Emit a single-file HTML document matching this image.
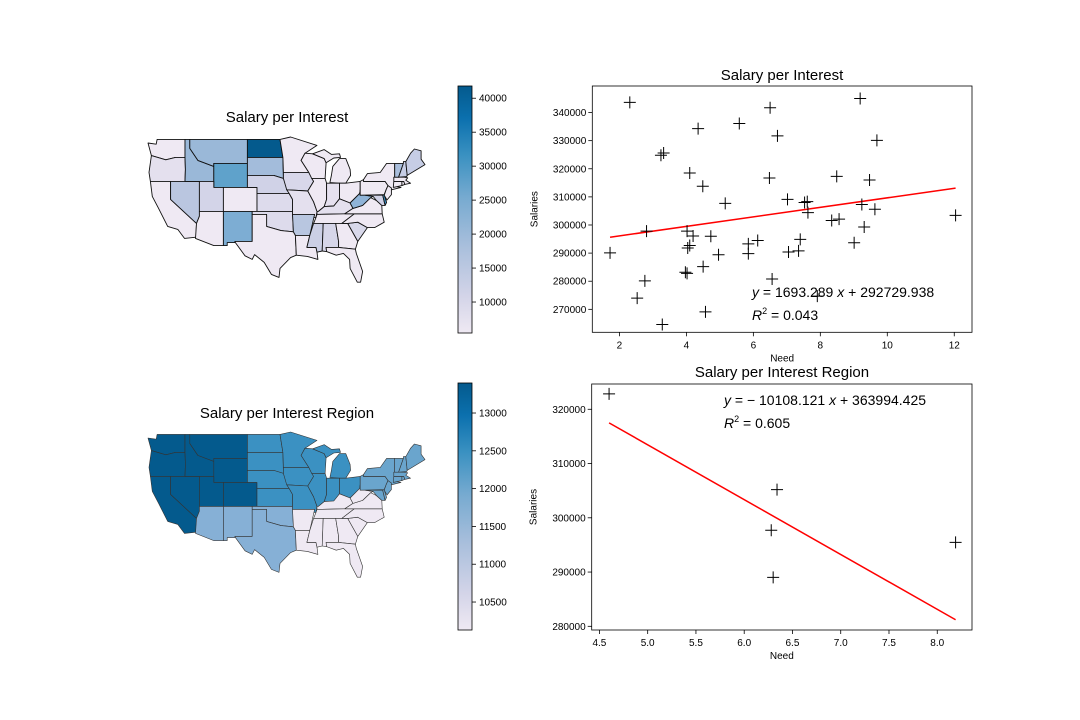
<!DOCTYPE html>
<html><head><meta charset="utf-8"><style>
body{margin:0;background:#fff;}
svg{display:block;font-family:"Liberation Sans","DejaVu Sans",sans-serif;}
</style></head><body>
<svg id="fig" width="1080" height="720" viewBox="0 0 1080 720" xmlns="http://www.w3.org/2000/svg">
<defs>
<linearGradient id="pubu" x1="0" y1="1" x2="0" y2="0">
<stop offset="0" stop-color="#efe9f3"/><stop offset="0.15" stop-color="#d3d4e8"/><stop offset="0.35" stop-color="#a9bfdc"/><stop offset="0.55" stop-color="#76aad0"/><stop offset="0.72" stop-color="#3a91c1"/><stop offset="0.87" stop-color="#0b70ae"/><stop offset="1" stop-color="#045a8d"/>
</linearGradient>
</defs>
<rect width="1080" height="720" fill="#fff"/>
<text x="287" y="122" font-size="15" text-anchor="middle">Salary per Interest</text>
<text x="287" y="418" font-size="15" text-anchor="middle">Salary per Interest Region</text>
<text x="782" y="80" font-size="15" text-anchor="middle">Salary per Interest</text>
<text x="782" y="377" font-size="15" text-anchor="middle">Salary per Interest Region</text>
<g id="map1"></g>
<g id="map2"></g>
<g id="cb1"></g>
<g id="cb2"></g>
<g id="sc1"></g>
<g id="sc2"></g>
</svg>
<script>
const needTop=[2.31,2.53,2.76,2.81,1.72,3.24,3.32,3.28,4.10,4.35,4.49,4.02,4.20,4.10,4.04,3.97,4.02,4.50,4.57,4.73,5.16,4.96,5.58,5.85,5.85,6.13,6.50,6.72,6.48,6.56,7.02,7.05,7.35,7.40,7.53,7.61,7.63,7.91,8.34,8.56,8.49,9.01,9.24,9.19,9.31,9.47,9.63,9.69,12.04];
const salTop=[343600,274000,280100,297800,290100,324800,325600,264600,318500,334300,313800,297800,296100,292700,291800,283200,282800,285200,269100,296000,307700,289400,336100,293300,289800,294500,341700,331700,316700,280800,309100,290400,290800,294900,308000,308300,304400,274700,301600,302100,317300,293700,307300,345000,299300,316000,305600,330100,303400];
const fitTop=[1693.289,292729.938];
const ticksTopX=[2,4,6,8,10,12];
const ticksTopY=[270000,280000,290000,300000,310000,320000,330000,340000];
const needBot=[4.60,6.34,6.28,6.30,8.19];
const salBot=[322830,305190,297700,289030,295480];
const fitBot=[-10108.121,363994.425];
const ticksBotX=[4.5,5.0,5.5,6.0,6.5,7.0,7.5,8.0];
const ticksBotY=[280000,290000,300000,310000,320000];
const cbTopTicks=[10000,15000,20000,25000,30000,35000,40000];
const cbBotTicks=[10500,11000,11500,12000,12500,13000];
const NS="http://www.w3.org/2000/svg";
function mk(p,t,a,txt){const e=document.createElementNS(NS,t);for(const k in a)e.setAttribute(k,a[k]);if(txt!==undefined)e.textContent=txt;p.appendChild(e);return e;}
function scatter(gid,xs,ys,cf,tx,ty,box,dom,eq,eqpos,txFmt){
 const g=document.getElementById(gid);
 const [L,T,R,B]=box,[x0,x1,y0,y1]=dom;
 const X=v=>L+(v-x0)/(x1-x0)*(R-L), Y=v=>B-(v-y0)/(y1-y0)*(B-T);
 tx.forEach(v=>{const t=mk(g,'line',{x1:X(v),x2:X(v),y1:B,y2:B+4,stroke:'#000','stroke-width':0.8});
  
  
  const l=mk(g,'text',{x:X(v),y:B+16,'font-size':10,'text-anchor':'middle'},txFmt(v));
  
  });
 ty.forEach(v=>{const t=mk(g,'line',{x1:L-4,x2:L,y1:Y(v),y2:Y(v),stroke:'#000','stroke-width':0.8});
  
  
  const l=mk(g,'text',{x:L-6,y:Y(v)+3.5,'font-size':10,'text-anchor':'end'},String(v));
  
  });
 const xl=mk(g,'text',{x:(L+R)/2,y:B+29,'font-size':10,'text-anchor':'middle'},'Need');
 
 
 const yl=mk(g,'text',{x:0,y:0,'font-size':10,'text-anchor':'middle',transform:`translate(${L-55},${(T+B)/2}) rotate(-90)`},'Salaries');
 
 
 const [b,a]=cf;const mn=Math.min(...xs),mxv=Math.max(...xs);
 const rl=mk(g,'line',{x1:X(mn),y1:Y(a+b*mn),x2:X(mxv),y2:Y(a+b*mxv),stroke:'#f00','stroke-width':1.5});
 
 
 xs.forEach((v,i)=>{const cx=X(v),cy=Y(ys[i]);
  const p=mk(g,'path',{d:`M${cx-6},${cy}H${cx+6}M${cx},${cy-6}V${cy+6}`,stroke:'#000','stroke-width':1,fill:'none'});
  
  });
 const fr=mk(g,'rect',{x:L,y:T,width:R-L,height:B-T,fill:'none',stroke:'#000','stroke-width':0.8});
 
 
 const e1=mk(g,'text',{x:eqpos[0],y:eqpos[1],'font-size':14},'');
 
 
 e1.innerHTML=eq[0];
 const e2=mk(g,'text',{x:eqpos[0],y:eqpos[1]+23,'font-size':14},'');
 
 
 e2.innerHTML=eq[1];
}
scatter('sc1',needTop,salTop,fitTop,ticksTopX,ticksTopY,[592.3,86,972,332.3],[1.19,12.53,261830,349440],
 ['<tspan font-style="italic">y</tspan> = 1693.289 <tspan font-style="italic">x</tspan> + 292729.938','<tspan font-style="italic">R</tspan><tspan font-size="9" dy="-6">2</tspan><tspan dy="6"> = 0.043</tspan>'],[752,297],v=>String(v));
scatter('sc2',needBot,salBot,fitBot,ticksBotX,ticksBotY,[591.7,384,972,630],[4.42,8.36,279320,324660],
 ['<tspan font-style="italic">y</tspan> = − 10108.121 <tspan font-style="italic">x</tspan> + 363994.425','<tspan font-style="italic">R</tspan><tspan font-size="9" dy="-6">2</tspan><tspan dy="6"> = 0.605</tspan>'],[724,405],v=>v.toFixed(1));

function colorbar(gid,T,B,vmin,vmax,ticks){
 const g=document.getElementById(gid);
 const r=mk(g,'rect',{x:458,y:T,width:14,height:B-T,fill:'url(#pubu)',stroke:'#000','stroke-width':0.8});
 
 
 ticks.forEach(v=>{const y=B-(v-vmin)/(vmax-vmin)*(B-T);
  const t=mk(g,'line',{x1:472,x2:476,y1:y,y2:y,stroke:'#000','stroke-width':0.8});
  
  
  const l=mk(g,'text',{x:479,y:y+3.5,'font-size':10},String(v));
  
  });
}
colorbar('cb1',86,333,5440,41800,cbTopTicks);
colorbar('cb2',383,630,10130,13397,cbBotTicks);

const states={
WA:[[-124.7,48.4],[-123,48.2],[-122.8,49],[-117,49],[-117,46],[-119,46],[-121,45.6],[-124,46.3]],
OR:[[-124,46.3],[-121,45.6],[-119,46],[-117,46],[-116.9,44],[-117,42],[-124.2,42],[-124.5,43.5]],
CA:[[-124.2,42],[-120,42],[-120,39],[-114.6,35],[-114.7,32.7],[-117.1,32.5],[-118.5,34],[-120.6,34.5],[-122.5,37.5],[-123.8,39.5]],
NV:[[-120,42],[-114,42],[-114,36.2],[-114.6,35],[-120,39]],
ID:[[-117,49],[-116,49],[-116,47.5],[-114.3,45.5],[-111,44.5],[-111,42],[-117,42],[-116.9,44],[-117,46]],
MT:[[-116,49],[-104,49],[-104,45],[-111,45],[-111,44.5],[-114.3,45.5],[-116,47.5]],
WY:[[-111,45],[-104,45],[-104,41],[-111,41]],
UT:[[-114,42],[-111,42],[-111,41],[-109,41],[-109,37],[-114,37]],
CO:[[-109,41],[-102,41],[-102,37],[-109,37]],
AZ:[[-114,37],[-109,37],[-109,31.3],[-111,31.3],[-114.8,32.5],[-114.6,35],[-114,36.2]],
NM:[[-109,37],[-103,37],[-103,32],[-106.6,32],[-106.5,31.8],[-108.2,31.8],[-108.2,31.3],[-109,31.3]],
ND:[[-104,49],[-97.2,49],[-96.6,46],[-104,46]],
SD:[[-104,46],[-96.6,46],[-96.5,42.5],[-98.5,43],[-104,43]],
NE:[[-104,43],[-98.5,43],[-96.5,42.5],[-95.3,40],[-102,40],[-102,41],[-104,41]],
KS:[[-102,40],[-95.3,40],[-94.6,39],[-94.6,37],[-102,37]],
OK:[[-103,37],[-94.6,37],[-94.4,33.6],[-97,33.8],[-100,34.5],[-100,36.5],[-103,36.5]],
TX:[[-103,36.5],[-100,36.5],[-100,34.5],[-97,33.8],[-94.4,33.6],[-94,33],[-93.8,29.7],[-95,29.3],[-97.2,27.5],[-97.4,26],[-99,26.5],[-100.5,28.5],[-102.5,29.8],[-103,29],[-104.5,29.6],[-106.5,31.8],[-106.6,32],[-103,32]],
MN:[[-97.2,49],[-95,49.4],[-89.5,48],[-92,46.7],[-92.8,45.5],[-91.2,43.5],[-96.5,43.5],[-96.6,46]],
IA:[[-96.5,43.5],[-91.2,43.5],[-90.2,42],[-91.4,40.4],[-95.8,40.6],[-96.5,42.5]],
MO:[[-95.8,40.6],[-91.4,40.4],[-90.2,38.6],[-89.5,37],[-89.7,36],[-90.4,36],[-90,36.5],[-94.6,36.5],[-94.6,39],[-95.3,40]],
AR:[[-94.6,36.5],[-90,36.5],[-91,33],[-94,33],[-94.4,33.6]],
LA:[[-94,33],[-91,33],[-91.6,31],[-89.7,31],[-89.5,30.2],[-89.3,29],[-91.5,29.5],[-93.8,29.7]],
WI:[[-92,46.7],[-90.4,46.6],[-88,45.8],[-87.6,45.1],[-87.8,42.5],[-90.6,42.5],[-91.2,43.5],[-92.8,45.5]],
IL:[[-90.6,42.5],[-87.8,42.5],[-87.5,41.7],[-87.5,39],[-88,37.8],[-89.2,37],[-89.5,37],[-90.2,38.6],[-91.4,40.4],[-90.2,42]],
MI:[[-86.8,41.8],[-84.8,41.7],[-83.5,41.7],[-82.5,43],[-82.6,44],[-83.5,45.8],[-84.8,45.8],[-86.2,44.5],[-86.5,43]],
MIU:[[-90.4,46.6],[-88,45.8],[-87.6,45.1],[-86,45.9],[-84.6,46],[-84.8,46.6],[-86.5,46.5],[-88,47.3]],
IN:[[-87.5,41.7],[-84.8,41.7],[-84.8,39.1],[-86,37.9],[-88,37.8],[-87.5,39]],
OH:[[-84.8,41.7],[-83.5,41.7],[-80.5,42],[-80.5,40.6],[-80.6,40],[-82.6,38.4],[-84.8,39.1]],
KY:[[-89.5,37],[-89.2,37],[-88,37.8],[-86,37.9],[-84.8,39.1],[-82.6,38.4],[-82,37.5],[-83.7,36.6],[-89.5,36.5]],
TN:[[-90.2,35],[-89.7,36],[-89.5,36.5],[-83.7,36.6],[-81.7,36.6],[-84.3,35]],
MS:[[-91,33],[-90.2,35],[-88.2,35],[-88.4,30.4],[-89.5,30.2],[-89.7,31],[-91.6,31]],
AL:[[-88.2,35],[-85.6,35],[-85,32],[-85,31],[-87.6,31],[-87.5,30.3],[-88.4,30.4]],
GA:[[-85.6,35],[-83.1,35],[-81,32],[-81.5,30.7],[-85,31],[-85,32]],
FL:[[-87.6,31],[-85,31],[-81.5,30.7],[-81.3,30],[-80,27],[-80.4,25.2],[-81.1,25.2],[-82.6,27.5],[-82.7,29],[-84,30],[-85.5,29.7],[-87.5,30.3]],
SC:[[-83.1,35],[-81,35.2],[-79,34.3],[-81,32]],
NC:[[-84.3,35],[-81.7,36.6],[-75.9,36.6],[-75.5,35.2],[-77.5,34.3],[-79,34.3],[-81,35.2],[-83.1,35]],
VA:[[-83.7,36.6],[-75.9,36.6],[-76,38],[-77.1,38.8],[-78.3,39.3],[-80,38],[-82,37.5]],
WV:[[-82.6,38.4],[-80.6,40],[-80.5,40.6],[-80.5,39.7],[-79.5,39.7],[-77.8,39.5],[-78.3,39.3],[-80,38],[-82,37.5]],
MD:[[-79.5,39.7],[-75.8,39.7],[-75.3,38],[-76,38],[-77.1,38.8],[-77.8,39.5]],
DE:[[-75.8,39.7],[-75.5,39.8],[-75,38.5],[-75.3,38]],
PA:[[-80.5,42],[-79.8,42.3],[-79.8,42],[-75.3,42],[-74.7,41.3],[-75.1,40.6],[-75.5,39.8],[-80.5,39.7]],
NY:[[-79.8,42],[-79.8,42.3],[-79,43.3],[-76.3,43.5],[-75,45],[-73.3,45],[-73.3,42.8],[-73.5,41.2],[-72,41],[-74,40.6],[-74.7,41.3],[-75.3,42]],
NJ:[[-74.7,41.3],[-74,40.9],[-74,39.8],[-74.9,38.9],[-75.5,39.7],[-75.1,40.6]],
CT:[[-73.5,42],[-71.8,42],[-71.8,41.3],[-73.6,41]],
RI:[[-71.8,42],[-71.4,42],[-71.2,41.5],[-71.8,41.3]],
MA:[[-73.5,42.7],[-71.3,42.7],[-70.6,42.6],[-71,42.2],[-70,41.7],[-71.2,41.5],[-71.4,42],[-73.5,42]],
VT:[[-73.3,45],[-71.5,45],[-72.5,42.7],[-73.3,42.7]],
NH:[[-71.5,45.3],[-71,45.3],[-70.7,43],[-70.8,42.8],[-72.5,42.7],[-71.5,45]],
ME:[[-71,45.3],[-70,46.7],[-69.2,47.4],[-67.8,47.1],[-67.8,45.7],[-67,44.8],[-70.7,43]]
};
const L='#efe9f3';
const col1={ND:'#045a8d',MT:'#9ab8d8',ID:'#9ab8d8',SD:'#a3bcdb',WY:'#5fa2cb',NM:'#7dadd3',NV:'#bac6e0',UT:'#d3d4e8',NE:'#d0d2e7',IA:'#d8d7ea',KS:'#dddbec',OK:'#dddbec',MS:'#cbcfe5',AL:'#d6d6e9',SC:'#d8d8ea',IN:'#e6e1ef',OR:'#e4e0ee',WV:'#8fb3d7',VT:'#a9bedc',NH:'#c6cde5',ME:'#c6cde5',AR:'#b8c6e0',DE:'#3a8cc0',MD:'#d0d1e6',MO:'#e4e0ee',KY:'#e4e0ee'};
const west=['WA','OR','CA','NV','ID','MT','WY','UT','CO'],mid=['ND','SD','NE','KS','MN','IA','MO','WI','IL','MI','MIU','IN','OH'],sw=['AZ','NM','OK','TX'],ne=['PA','NY','NJ','CT','RI','MA','VT','NH','ME','MD','DE'];
function col2(s){if(west.includes(s))return '#045a8d';if(mid.includes(s))return '#3b91c2';if(sw.includes(s))return '#86b0d6';if(ne.includes(s))return '#6aa5cd';return L;}
function drawMap(gid,dy,cf,sw_,sc){
 const g=document.getElementById(gid);
 for(const s in states){
  const d='M'+states[s].map(p=>[(148+(p[0]+124.7)*4.8).toFixed(1),(137+dy+(49.4-p[1])*6.0).toFixed(1)].join(',')).join('L')+'Z';
  const p=mk(g,'path',{d:d,fill:cf(s),stroke:sc,'stroke-width':sw_,'stroke-linejoin':'round'});
  
  
 }
}
drawMap('map1',0,s=>col1[s]||L,0.9,'#111');
drawMap('map2',295,col2,0.6,'#333');
</script>
</body></html>
